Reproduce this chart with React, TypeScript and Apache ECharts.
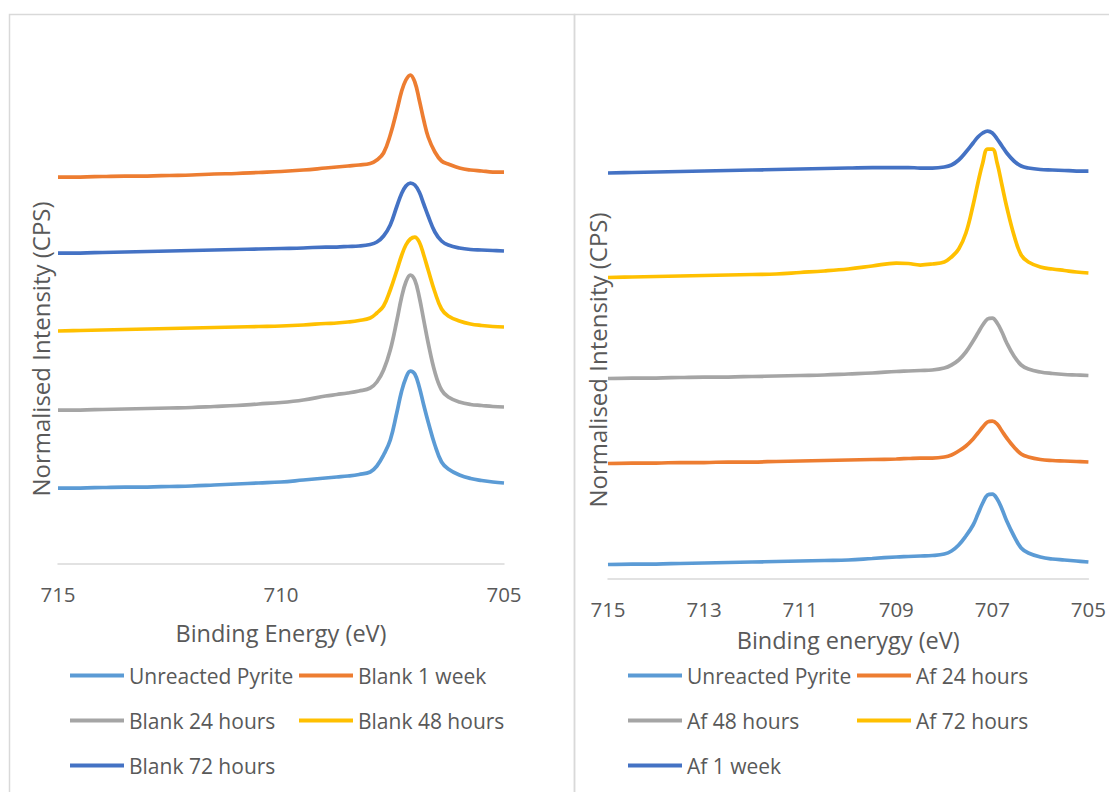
import React, { useEffect, useRef } from "react";
import * as echarts from "echarts";

// Binding energy grid (eV), shared by every spectrum
const energy = [
  715, 714.5, 714, 713.5, 713, 712.5, 712, 711.5, 711, 710.5, 710, 709.5, 709,
  708.75, 708.5, 708.25, 708, 707.85, 707.7, 707.55, 707.4, 707.3, 707.2, 707.1,
  707.0, 706.9, 706.8, 706.7, 706.55, 706.4, 706.25, 706, 705.75, 705.5, 705.25, 705,
];

// Left panel (Blank) – normalised, offset intensities
const unreactedLeft = [
  76, 76, 76.5, 77, 77, 77.5, 78, 79, 80, 81, 82, 84, 86, 87, 88, 89.5, 92, 98,
  109, 124, 152, 172, 186, 193, 190, 177, 159, 142, 119, 102, 95, 89, 85.5, 83.5, 82, 81,
];
const blank1Week = [
  387, 387, 387.5, 388, 388, 388.5, 389, 390, 390.5, 391.5, 392.5, 394, 396, 397,
  398, 399, 400.5, 404, 411, 429, 454, 472, 484, 489, 482, 464, 444, 427, 412, 403,
  400, 396, 394, 393, 392, 392,
];
const blank24h = [
  154, 154, 154.5, 155, 155.5, 156, 156.5, 157.5, 158.5, 160, 161.5, 164, 168,
  169.5, 171, 173, 176, 182, 194, 214, 244, 266, 282, 289, 284, 267, 244, 221, 192,
  174, 167, 162, 159.5, 158.5, 157.5, 157,
];
const blank48h = [
  233, 233.5, 234, 234.5, 235, 235.5, 236, 236.5, 237, 237.5, 238, 239, 240.5, 241,
  242, 243.5, 246, 251, 258, 274, 294, 308, 319, 325, 327, 322, 309, 294, 272, 255,
  248, 243, 240, 238.5, 237.5, 237,
];
const blank72h = [
  311, 311, 311.5, 312, 312.5, 313, 313.5, 314, 314.5, 315, 315.5, 316, 317, 317,
  317.5, 318, 319.5, 322, 328, 339, 358, 370, 378, 381, 379, 372, 360, 348, 332, 323,
  319, 316, 314.5, 314, 313.5, 313,
];

// Right panel (Af) – normalised, offset intensities
const unreactedRight = [
  14.5, 15, 15, 15.5, 16, 16.5, 17, 17.5, 18, 18.5, 19, 20.5, 22, 22.5, 23, 23.5, 25,
  28, 34, 43, 54, 65, 76, 84, 85, 80, 70, 58, 43, 31, 26, 22, 20, 19, 18, 17,
];
const af24h = [
  115.5, 116, 116, 116.5, 116.5, 117, 117, 117.5, 118, 118.5, 119, 119.5, 120, 120.5,
  121, 121, 122, 124, 128, 133, 140, 146, 152, 157, 158, 155, 148, 141, 132, 125, 122,
  119.5, 118.5, 118, 117.5, 117,
];
const af48h = [
  200.5, 201, 201, 201.5, 202, 202, 202.5, 203, 203.5, 204, 205, 206, 207.5, 208,
  208.5, 209, 211, 214, 219, 227, 238, 246, 254, 260, 261, 256, 247, 236, 223, 214,
  210, 207, 205.5, 204.5, 204, 203.5,
];
const af72h = [
  301.5, 302, 302.5, 303, 303.5, 304, 304.5, 305, 306.5, 308, 310, 313, 316, 315.5,
  314, 315, 317, 322, 330, 346, 374, 396, 416, 430, 430, 416, 394, 372, 344, 324, 317,
  312, 310, 308.5, 307, 306,
];
const af1Week = [
  406, 406.5, 407, 407.5, 408, 408.5, 409, 409.5, 410, 410.5, 411, 411.5, 411.5,
  411.5, 411, 411, 412, 414, 419, 427, 436, 442, 446, 448, 446, 440, 433, 426, 418,
  413, 411, 409.5, 409, 408.5, 408, 408,
];

const leftNames = ["Unreacted Pyrite", "Blank 1 week", "Blank 24 hours", "Blank 48 hours", "Blank 72 hours"];
const rightNames = ["Unreacted Pyrite", "Af 24 hours", "Af 48 hours", "Af 72 hours", "Af 1 week"];
const palette = ["#5B9BD5", "#ED7D31", "#A5A5A5", "#FFC000", "#4472C4"];

const FONT = "'Open Sans', 'Noto Sans', sans-serif";
const TXT = "#595959";

export default function App() {
  const ref = useRef<HTMLDivElement>(null);

  useEffect(() => {
    if (!ref.current) return;
    const chart = echarts.init(ref.current, null, { renderer: "svg" });

    const leftData = [unreactedLeft, blank1Week, blank24h, blank48h, blank72h];
    const rightData = [unreactedRight, af24h, af48h, af72h, af1Week];

    const mk = (name: string, arr: number[], color: string, idx: number) => ({
      type: "line",
      name,
      xAxisIndex: idx,
      yAxisIndex: idx,
      data: energy.map((e, i) => [e, arr[i]]),
      showSymbol: false,
      symbol: "none",
      smooth: 0.4,
      lineStyle: { color, width: 3.75 },
      itemStyle: { color },
      silent: true,
    });

    const series = [
      ...leftData.map((a, i) => mk(leftNames[i], a, palette[i], 0)),
      ...rightData.map((a, i) => mk(rightNames[i], a, palette[i], 1)),
    ];

    const legendPos = [
      [0, 0],
      [1, 0],
      [0, 1],
      [1, 1],
      [0, 2],
    ];
    const rowTops = [665, 710, 755];
    const mkLegend = (name: string, left: number, top: number) => ({
      data: [name],
      left,
      top,
      padding: 0,
      icon: "rect",
      itemWidth: 54,
      itemHeight: 4,
      selectedMode: false,
      textStyle: { fontSize: 21, color: TXT, fontFamily: FONT },
    });
    const legends = [
      ...leftNames.map((n, i) =>
        mkLegend(n, legendPos[i][0] === 0 ? 70 : 299, rowTops[legendPos[i][1]])
      ),
      ...rightNames.map((n, i) =>
        mkLegend(n, legendPos[i][0] === 0 ? 628 : 857, rowTops[legendPos[i][1]])
      ),
    ];

    const xAxisBase = {
      type: "value",
      min: 705,
      max: 715,
      inverse: true,
      nameLocation: "middle",
      nameTextStyle: { fontSize: 23.5, color: TXT, fontFamily: FONT },
      axisLine: { show: true, lineStyle: { color: "#D9D9D9", width: 1.5 } },
      axisTick: { show: false },
      splitLine: { show: false },
      axisLabel: { fontSize: 20.5, color: TXT, fontFamily: FONT, margin: 19 },
    };

    chart.setOption({
      animation: false,
      backgroundColor: "#ffffff",
      grid: [
        { left: 58, top: 64, width: 446, height: 500 },
        { left: 608, top: 79, width: 482, height: 500 },
      ],
      xAxis: [
        { ...xAxisBase, gridIndex: 0, interval: 5, name: "Binding Energy (eV)", nameGap: 57 },
        { ...xAxisBase, gridIndex: 1, interval: 2, name: "Binding enerygy (eV)", nameGap: 49 },
      ],
      yAxis: [
        { type: "value", gridIndex: 0, min: 0, max: 500, show: false },
        { type: "value", gridIndex: 1, min: 0, max: 500, show: false },
      ],
      legend: legends,
      series,
      graphic: [
        {
          type: "rect",
          silent: true,
          z: -10,
          shape: { x: 9.5, y: 14.5, width: 565, height: 800 },
          style: { fill: "none", stroke: "#D9D9D9", lineWidth: 1.5 },
        },
        {
          type: "rect",
          silent: true,
          z: -10,
          shape: { x: 574.5, y: 14.5, width: 600, height: 800 },
          style: { fill: "none", stroke: "#D9D9D9", lineWidth: 1.5 },
        },
        {
          type: "text",
          x: 40,
          y: 349,
          rotation: Math.PI / 2,
          style: {
            text: "Normalised Intensity (CPS)",
            fill: TXT,
            font: `24px ${FONT}`,
            align: "center",
            verticalAlign: "middle",
          },
        },
        {
          type: "text",
          x: 597,
          y: 360,
          rotation: Math.PI / 2,
          style: {
            text: "Normalised Intensity (CPS)",
            fill: TXT,
            font: `24px ${FONT}`,
            align: "center",
            verticalAlign: "middle",
          },
        },
      ],
    });

    return () => chart.dispose();
  }, []);

  return (
    <div
      ref={ref}
      style={{ position: "fixed", left: 0, top: 0, width: 1109, height: 792, background: "#fff" }}
    />
  );
}
